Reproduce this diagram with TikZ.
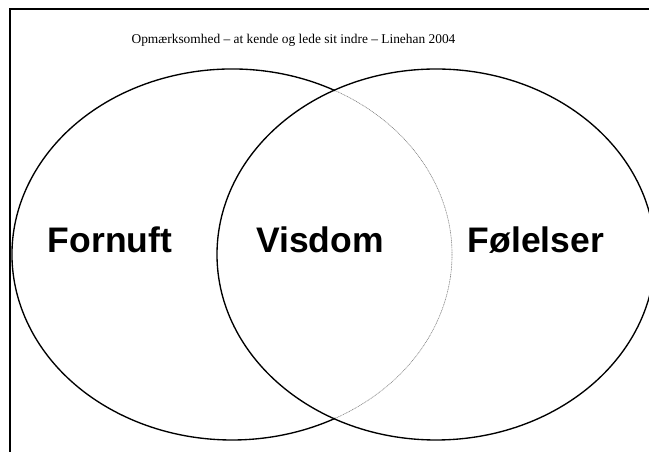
\documentclass[tikz,border=0pt]{standalone}
\usepackage{fontspec}
\setmainfont{Liberation Serif}
\setsansfont{Liberation Sans}
\begin{document}
\begin{tikzpicture}[x=1pt,y=1pt,
  frame/.style={line width=2.5pt, line join=miter},
  ring/.style={line width=1.35pt},
  hidden/.style={gray, line width=0.6pt, dash pattern=on 1pt off 0.7pt},
  setlabel/.style={font=\sffamily\bfseries\fontsize{35.5}{40}\selectfont, anchor=base, inner sep=0pt},
  title/.style={font=\fontsize{13.4}{15}\selectfont, inner sep=0pt}]
\useasboundingbox (0,0) rectangle (649,452);
\clip (0,0) rectangle (649,452);
% frame
\coordinate (fb) at (10,0);
\coordinate (fc) at (10,443);
\coordinate (fr) at (649,443);
\draw[frame] (fb) -- (fc) -- (fr);
% centres
\coordinate (cl) at (232,197.5);
\coordinate (cr) at (436,197.5);
% right ellipse
\draw[ring] (cr) ellipse[x radius=219, y radius=185.5];
% left ellipse: black outside, grey inside right ellipse
\draw[ring] (cl) ++(62:220 and 185.5) arc[start angle=62, end angle=298, x radius=220, y radius=185.5];
\draw[hidden] (cl) ++(-62:220 and 185.5) arc[start angle=-62, end angle=62, x radius=220, y radius=185.5];
% texts
\node[title] (t) at (293.5,412) {Opmærksomhed – at kende og lede sit indre – Linehan 2004};
\node[setlabel] (a) at (110,199) {Fornuft};
\node[setlabel] (b) at (320,199) {Visdom};
\node[setlabel] (c) at (536,199) {Følelser};
\end{tikzpicture}
\end{document}
